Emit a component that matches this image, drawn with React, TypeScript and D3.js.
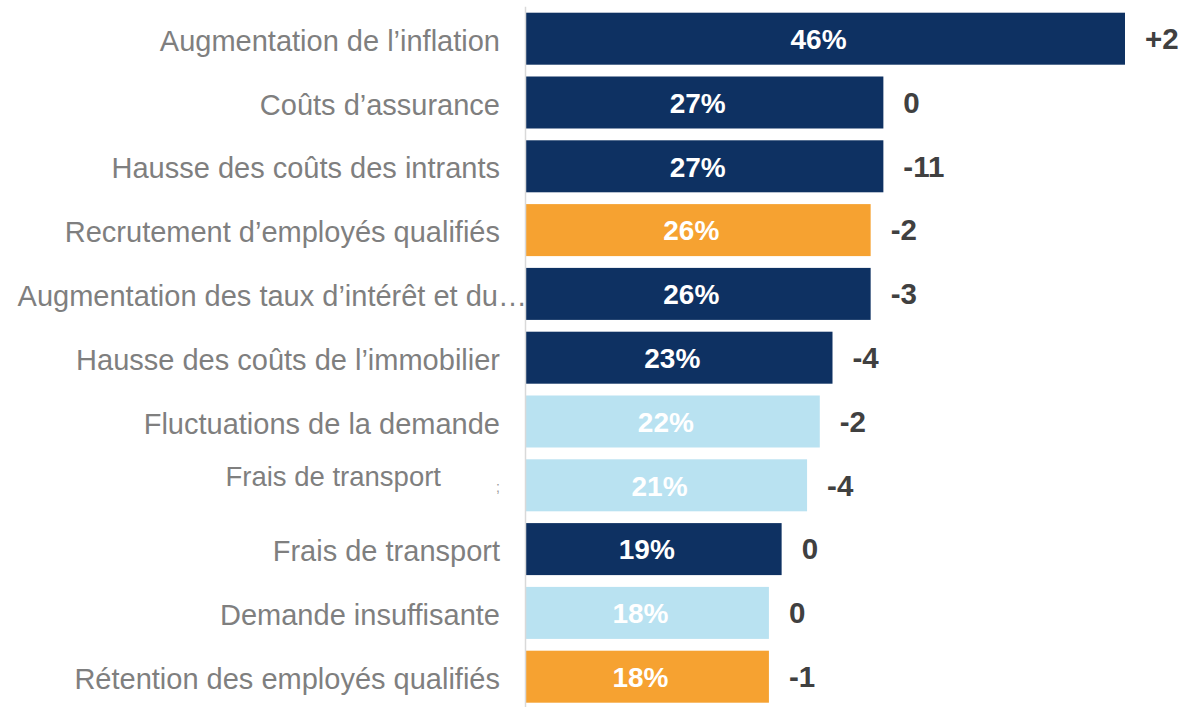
import React from "react";
import * as d3 from "d3";

const categories = [
  "Augmentation de l’inflation",
  "Coûts d’assurance",
  "Hausse des coûts des intrants",
  "Recrutement d’employés qualifiés",
  "Augmentation des taux d’intérêt et du…",
  "Hausse des coûts de l’immobilier",
  "Fluctuations de la demande",
  "Frais de transport",
  "Frais de transport",
  "Demande insuffisante",
  "Rétention des employés qualifiés",
];
const values = [46, 27, 27, 26, 26, 23, 22, 21, 19, 18, 18];
const changes = ["+2", "0", "-11", "-2", "-3", "-4", "-2", "-4", "0", "0", "-1"];
const groups = ["navy", "navy", "navy", "orange", "navy", "navy", "light", "light", "navy", "light", "orange"];

const colors: Record<string, string> = {
  navy: "#0e3162",
  orange: "#f6a231",
  light: "#b9e2f1",
};

const W = 1191;
const H = 707;
const axisX = 525.5;

export default function App() {
  const y = d3
    .scaleBand<number>()
    .domain(d3.range(categories.length))
    .range([6.8, 708.6])
    .paddingInner(0.185)
    .paddingOuter(0.0925);
  const x = d3.scaleLinear().domain([0, 46]).range([540, 1125]);
  const fs = 28;
  const font = "'Liberation Sans', Arial, sans-serif";

  return (
    <svg
      width={W}
      height={H}
      style={{ position: "absolute", left: 0, top: 0, background: "#fff" }}
      fontFamily={font}
    >
      {categories.map((c, i) => {
        const top = y(i)!;
        const bw = y.bandwidth();
        const cy = top + bw / 2;
        const x0 = axisX + 0.5;
        const x1 = x(values[i]);
        let labelX = 500;
        let labelY = cy;
        let labelFs = 29;
        if (i === 4) labelX = 527;
        if (i === 7) {
          labelX = 441;
          labelY = cy - 11;
          labelFs = 27.5;
        }
        return (
          <g key={i}>
            <rect x={x0} y={top} width={x1 - x0} height={bw} fill={colors[groups[i]]} />
            <text
              x={(x0 + x1) / 2 - 7}
              y={cy}
              dy="0.37em"
              textAnchor="middle"
              fill="#ffffff"
              fontWeight="bold"
              fontSize={fs}
            >
              {values[i]}%
            </text>
            <text
              x={x1 + 20}
              y={cy}
              dy="0.35em"
              textAnchor="start"
              fill="#404040"
              fontWeight="bold"
              fontSize={29.5}
            >
              {changes[i]}
            </text>
            <text
              x={labelX}
              y={labelY}
              dy="0.42em"
              textAnchor="end"
              fill="#7f7f7f"
              fontSize={labelFs}
            >
              {c}
            </text>
            {i === 7 && (
              <text x={498} y={cy + 7} textAnchor="middle" fill="#9a9a9a" fontSize={14}>
                ;
              </text>
            )}
          </g>
        );
      })}
      <line
        x1={axisX}
        x2={axisX}
        y1={y.range()[0]}
        y2={y.range()[1]}
        stroke="#d9d9d9"
        strokeWidth={1.5}
      />
    </svg>
  );
}
